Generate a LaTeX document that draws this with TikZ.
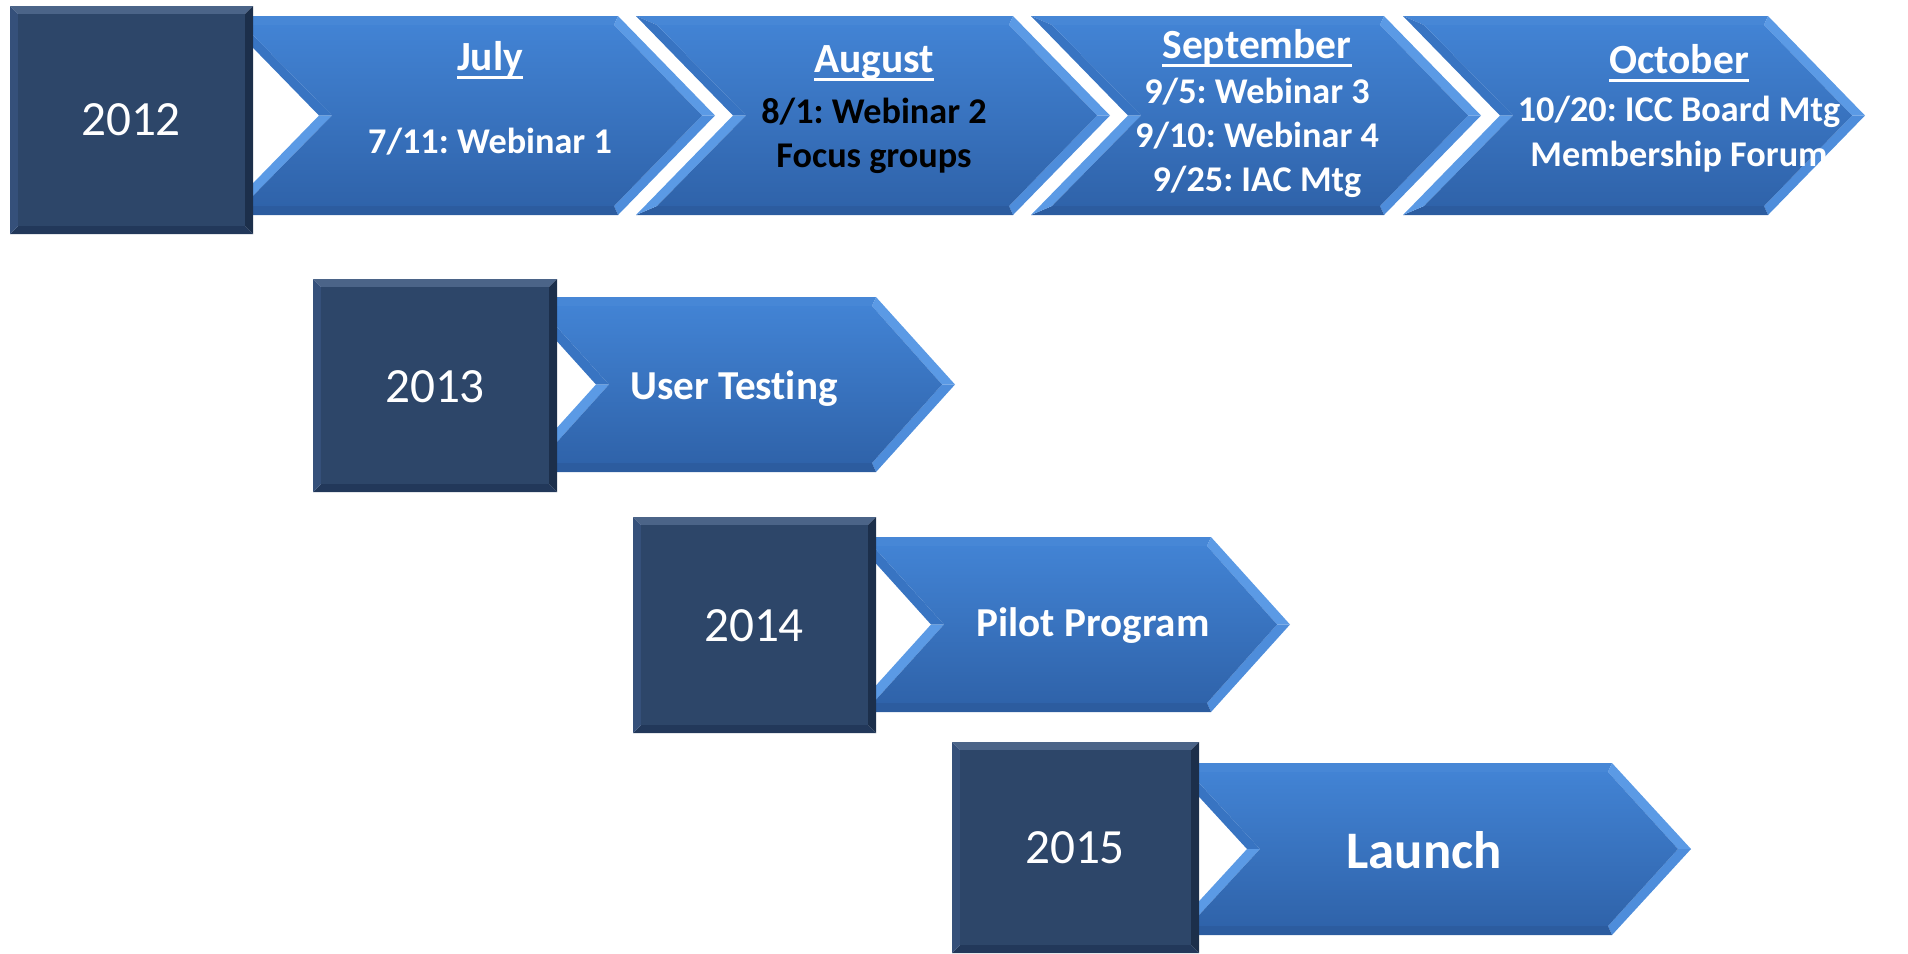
\documentclass[tikz,border=0pt]{standalone}
\usepackage{fontspec}
\setmainfont{Carlito}[Ligatures=NoCommon]
\frenchspacing

\definecolor{bandtop}{HTML}{4283D4}
\definecolor{bandbot}{HTML}{2F63AA}
\definecolor{bandedge}{HTML}{4787D6}
\definecolor{bandlight}{HTML}{5B9AE5}
\definecolor{bandmidl}{HTML}{4E8DDB}
\definecolor{banddark}{HTML}{2C5C9F}
\definecolor{bandnotch}{HTML}{3874C2}
\definecolor{boxface}{HTML}{2D4669}
\definecolor{boxtop}{HTML}{4B6488}
\definecolor{boxleft}{HTML}{35507A}
\definecolor{boxright}{HTML}{1C2F4B}
\definecolor{boxbottom}{HTML}{22385A}

% bevelled chevron: left, notch, shoulder, tip, top, bottom
\newcommand{\timeband}[6]{%
  \pgfmathsetmacro{\bandmid}{(#5+#6)/2}
  \fill[bandedge] (#1,#5) -- (#3,#5) -- (#3-4,#5+9) -- (#1+21,#5+9) -- cycle;
  \fill[bandlight] (#3,#5) -- (#4,\bandmid) -- (#4-13,\bandmid) -- (#3-4,#5+9) -- cycle;
  \fill[bandmidl] (#4,\bandmid) -- (#3,#6) -- (#3-4,#6-9) -- (#4-13,\bandmid) -- cycle;
  \fill[banddark] (#3,#6) -- (#1,#6) -- (#1+21,#6-9) -- (#3-4,#6-9) -- cycle;
  \fill[bandnotch] (#1,#5) -- (#2,\bandmid) -- (#2+13,\bandmid) -- (#1+21,#5+9) -- cycle;
  \fill[bandlight] (#2,\bandmid) -- (#1,#6) -- (#1+21,#6-9) -- (#2+13,\bandmid) -- cycle;
  \shade[top color=bandtop, bottom color=bandbot] (#1+21,#5+9) -- (#3-4,#5+9) -- (#4-13,\bandmid)
    -- (#3-4,#6-9) -- (#1+21,#6-9) -- (#2+13,\bandmid) -- cycle;
}

% bevelled year box: x1, y1, x2, y2
\newcommand{\yearbox}[4]{%
  \fill[boxtop] (#1,#2) -- (#3,#2) -- (#3-8,#2+8) -- (#1+8,#2+8) -- cycle;
  \fill[boxright] (#3,#2) -- (#3,#4) -- (#3-8,#4-8) -- (#3-8,#2+8) -- cycle;
  \fill[boxbottom] (#3,#4) -- (#1,#4) -- (#1+8,#4-8) -- (#3-8,#4-8) -- cycle;
  \fill[boxleft] (#1,#2) -- (#1,#4) -- (#1+8,#4-8) -- (#1+8,#2+8) -- cycle;
  \fill[boxface] (#1+8,#2+8) rectangle (#3-8,#4-8);
}

% month heading with a heavy underline
\newcommand{\monthul}[1]{\setbox0\hbox{#1}\rlap{\rule[-2.3pt]{\wd0}{0.8pt}}\box0}

\begin{document}
\begin{tikzpicture}[x=0.01cm,y=-0.01cm,
yearnode/.style={text=white, font=\fontsize{14}{16}\selectfont},
headnode/.style={text=white, font=\bfseries\fontsize{11.8}{14}\selectfont},
itemnode/.style={text=white, font=\bfseries\fontsize{10.3}{12.6}\selectfont, align=center},
bignode/.style={text=white, font=\bfseries\fontsize{11.7}{14}\selectfont},
]
    \useasboundingbox (0,0) rectangle (1908,953);

    % 2012 row
    \timeband{222}{319}{618}{715}{16}{215}
    \timeband{636}{733}{1013}{1110}{16}{215}
    \timeband{1031}{1128}{1384}{1481}{16}{215}
    \timeband{1403}{1500}{1768}{1865}{16}{215}
    \yearbox{10}{6}{253}{234}

    % later years
    \timeband{517}{596}{876}{955}{297}{472}
    \yearbox{313}{279}{557}{492}
    \timeband{852}{931}{1211}{1290}{537}{712}
    \yearbox{633}{517}{876}{733}
    \timeband{1168}{1247}{1612}{1691}{763}{935}
    \yearbox{952}{742}{1199}{953}

    \node[yearnode] (y2012) at (131,120) {2012};
    \node[yearnode] (y2013) at (435,387) {2013};
    \node[yearnode] (y2014) at (754,626) {2014};
    \node[yearnode] (y2015) at (1075,848) {2015};

    \node[headnode] (julhead) at (490,60) {\monthul{July}};
    \node[itemnode] (jultext) at (490,142) {7/11: Webinar 1};
    \node[headnode] (aughead) at (874,63) {\monthul{August}};
    \node[itemnode,text=black] (augtext) at (874,136) {8/1: Webinar 2\\Focus groups};
    \node[headnode] (sephead) at (1257,48) {\monthul{September}};
    \node[itemnode] (septext) at (1257,138) {9/5: Webinar 3\\9/10: Webinar 4\\9/25: IAC Mtg};
    \node[headnode] (octhead) at (1679,63) {\monthul{October}};
    \node[itemnode] (octtext) at (1679,134) {10/20: ICC Board Mtg\\Membership Forum};

    \node[bignode] (testing) at (734,389) {User Testing};
    \node[bignode] (pilot) at (1093,626) {Pilot Program};
    \node[bignode,font=\bfseries\fontsize{15}{18}\selectfont] (launch) at (1424,850) {Launch};
\end{tikzpicture}
\end{document}
